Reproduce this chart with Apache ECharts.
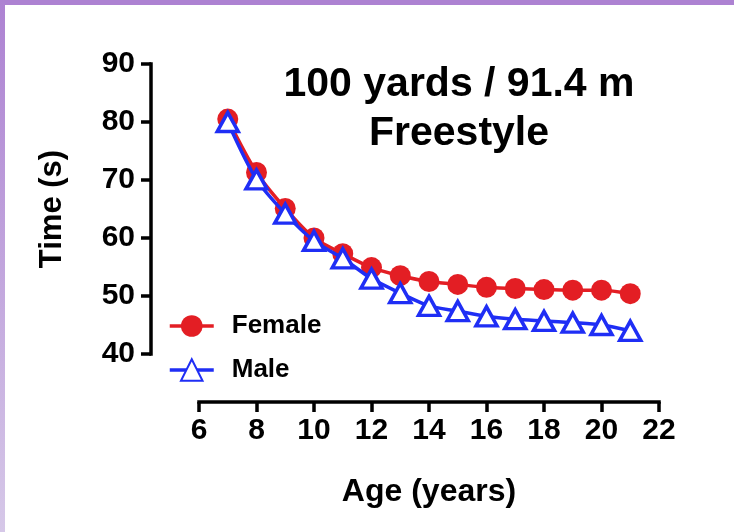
<!DOCTYPE html>
<html>
<head>
<meta charset="utf-8">
<script src="https://cdn.jsdelivr.net/npm/echarts@6/dist/echarts.min.js"></script>
<style>
html,body{margin:0;padding:0;background:#fff;}
#wrap{position:relative;width:734px;height:532px;overflow:hidden;}
#chart{position:absolute;left:0;top:0;width:734px;height:532px;}
#topbar{position:absolute;left:0;top:0;width:734px;height:5px;background:#ad82d2;z-index:2;}
#leftbar{position:absolute;left:0;top:0;width:5px;height:532px;background:linear-gradient(#ad82d2,#d6c8e8);z-index:2;}
</style>
</head>
<body>
<div id="wrap">
<div id="chart"></div>
<div id="topbar"></div>
<div id="leftbar"></div>
</div>
<script>
const ages = [7, 8, 9, 10, 11, 12, 13, 14, 15, 16, 17, 18, 19, 20, 21];
const female = [80.5, 71.3, 65.1, 60.0, 57.3, 54.9, 53.5, 52.5, 52.0, 51.5, 51.3, 51.1, 51.0, 51.0, 50.4];
const male = [80.0, 70.1, 64.2, 59.5, 56.5, 53.0, 50.5, 48.3, 47.4, 46.5, 46.0, 45.7, 45.4, 45.0, 44.0];
const xTicks = [6, 8, 10, 12, 14, 16, 18, 20, 22];
const yTicks = [40, 50, 60, 70, 80, 90];
const titleLines = ['100 yards / 91.4 m', 'Freestyle'];
const seriesNames = ['Female', 'Male'];

const FONT = '"Liberation Sans", Arial, Helvetica, sans-serif';
const RED = '#e31e24';
const BLUE = '#1f2ef5';

const chart = echarts.init(document.getElementById('chart'), null, {renderer: 'canvas'});
const axisStyle = {lineStyle: {color: '#000', width: 3.5, cap: 'square'}};
chart.setOption({
  animation: false,
  backgroundColor: '#fff',
  title: {
    text: titleLines.join('\n'),
    left: 454, top: 55, textAlign: 'center',
    textStyle: {fontFamily: FONT, fontWeight: 'bold', fontSize: 41, lineHeight: 49, color: '#000'}
  },
  legend: {
    orient: 'vertical', left: 168, top: 313, padding: 0,
    itemWidth: 44, itemHeight: 27, itemGap: 18,
    lineStyle: {width: 3.5},
    textStyle: {fontFamily: FONT, fontWeight: 'bold', fontSize: 26, color: '#000', padding: [0, 0, 0, 13]},
    data: seriesNames
  },
  grid: {left: 199, right: 75, top: 64, bottom: 178, containLabel: false},
  xAxis: {
    type: 'value', min: xTicks[0], max: xTicks[xTicks.length - 1], interval: 2,
    offset: 48,
    name: 'Age (years)', nameLocation: 'middle', nameGap: 74,
    nameTextStyle: {fontFamily: FONT, fontWeight: 'bold', fontSize: 32, color: '#000'},
    axisLine: axisStyle,
    axisTick: {show: true, length: 10, lineStyle: {color: '#000', width: 3.5}},
    axisLabel: {fontFamily: FONT, fontWeight: 'bold', fontSize: 30, color: '#000', margin: 14},
    splitLine: {show: false}
  },
  yAxis: {
    type: 'value', min: yTicks[0], max: yTicks[yTicks.length - 1], interval: 10,
    offset: 48,
    name: 'Time (s)', nameLocation: 'middle', nameGap: 83, nameRotate: 90,
    nameTextStyle: {fontFamily: FONT, fontWeight: 'bold', fontSize: 31, color: '#000'},
    axisLine: axisStyle,
    axisTick: {show: true, length: 10, lineStyle: {color: '#000', width: 3.5}},
    axisLabel: {fontFamily: FONT, fontWeight: 'bold', fontSize: 30, color: '#000', margin: 16},
    splitLine: {show: false}
  },
  series: [
    {
      name: seriesNames[0], type: 'line', smooth: 0.3,
      data: ages.map((a, i) => [a, female[i]]),
      symbol: 'circle', symbolSize: 21,
      itemStyle: {color: RED, borderWidth: 0},
      lineStyle: {color: RED, width: 3.5}, z: 2
    },
    {
      name: seriesNames[1], type: 'line', smooth: 0.3,
      data: ages.map((a, i) => [a, male[i]]),
      symbol: 'triangle', symbolSize: [21, 19],
      itemStyle: {color: '#fff', borderColor: BLUE, borderWidth: 3.5},
      lineStyle: {color: BLUE, width: 3.5}, z: 3
    }
  ]
});
</script>
</body>
</html>
